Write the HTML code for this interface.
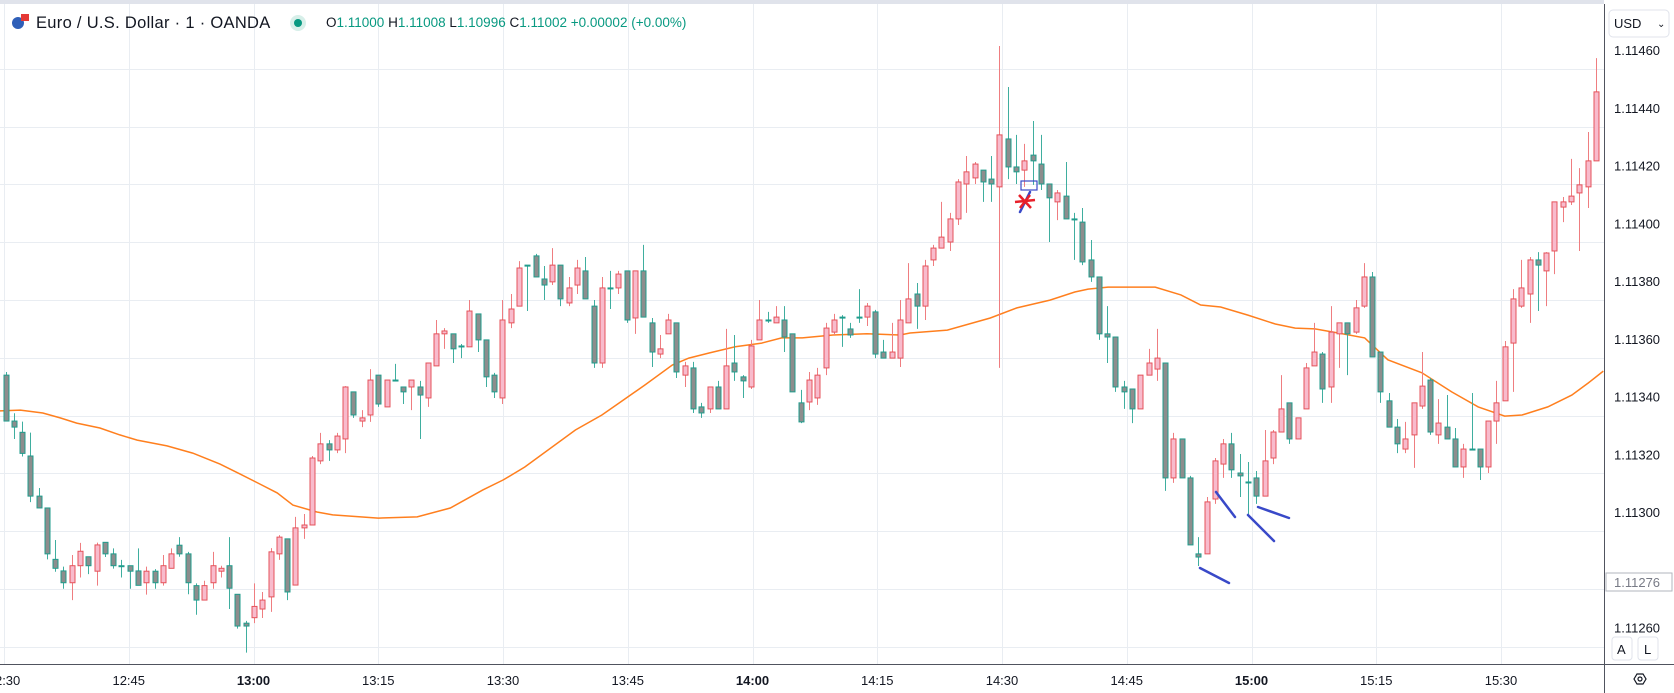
<!DOCTYPE html>
<html><head><meta charset="utf-8"><style>
body{margin:0;background:#fff;width:1674px;height:693px;overflow:hidden;font-family:"Liberation Sans",sans-serif}
svg{display:block}
text{font-family:"Liberation Sans",sans-serif}
</style></head><body>
<svg id="c" width="1674" height="693">
  <rect x="0" y="0" width="1674" height="693" fill="#fff"/>
  <rect x="0" y="0" width="1674" height="4" fill="#e0e3eb"/>
  <g id="grid"></g>
  <g id="ema"></g>
  <g id="candles"></g>
  <g stroke="#3949c8" stroke-width="2.5" stroke-linecap="round">
    <rect x="1021" y="181" width="16" height="9" fill="none" stroke="#3949c8" stroke-width="1.2"/>
    <line x1="1020" y1="212" x2="1030" y2="192"/>
    <line x1="1200" y1="568" x2="1229" y2="583"/>
    <line x1="1216" y1="492" x2="1235" y2="517"/>
    <line x1="1248" y1="515" x2="1274" y2="541"/>
    <line x1="1258" y1="507" x2="1289" y2="518"/>
  </g>
  <g stroke="#e8202a" stroke-width="2.5">
    <line x1="1015" y1="202" x2="1035" y2="200"/>
    <line x1="1019" y1="195" x2="1031" y2="208"/>
    <line x1="1020" y1="208" x2="1030" y2="195"/>
  </g>
  <rect x="1604" y="0" width="70" height="693" fill="#fff"/>
  <rect x="0" y="664" width="1674" height="29" fill="#fff"/>
  <line x1="1604.5" y1="4" x2="1604.5" y2="693" stroke="#50535e" stroke-width="1"/>
  <line x1="0" y1="664.5" x2="1674" y2="664.5" stroke="#50535e" stroke-width="1"/>
  <g id="yaxis"></g>
  <g id="xaxis"></g>
  <g>
    <rect x="1609" y="10" width="60" height="27" rx="4" fill="#fff" stroke="#e0e3eb"/>
    <text x="1614" y="28" font-size="13" fill="#131722">USD</text>
    <text x="1657" y="27" font-size="10" fill="#131722">⌄</text>
  </g>
  <g>
    <rect x="1606" y="573" width="66" height="18" fill="#fff" stroke="#b2b5be"/>
    <text x="1614" y="587" font-size="13" fill="#787b86">1.11276</text>
  </g>
  <g>
    <rect x="1612" y="637" width="20" height="23" rx="3" fill="#fff" stroke="#e0e3eb"/>
    <text x="1617" y="654" font-size="13" fill="#131722">A</text>
  </g>
  <g>
    <rect x="1638" y="637" width="20" height="23" rx="3" fill="#fff" stroke="#e0e3eb"/>
    <text x="1644" y="654" font-size="13" fill="#131722">L</text>
  </g>
  <g fill="none" stroke="#131722" stroke-width="1.2">
    <polygon points="1634,679 1637,674 1643,674 1646,679 1643,684 1637,684"/>
    <circle cx="1640" cy="679" r="2"/>
  </g>
  <g>
    <circle cx="18" cy="23" r="6" fill="#2f5fb8"/>
    <rect x="21" y="14" width="8" height="7" fill="#e53935"/>
    <text x="36" y="28" font-size="16.5" letter-spacing="0.3" fill="#131722">Euro / U.S. Dollar · 1 · OANDA</text>
    <circle cx="298" cy="23" r="8" fill="#d7efe9"/>
    <circle cx="298" cy="23" r="4" fill="#089981"/>
    <text x="326" y="27" font-size="13.5"><tspan fill="#131722">O</tspan><tspan fill="#089981">1.11000 </tspan><tspan fill="#131722">H</tspan><tspan fill="#089981">1.11008 </tspan><tspan fill="#131722">L</tspan><tspan fill="#089981">1.10996 </tspan><tspan fill="#131722">C</tspan><tspan fill="#089981">1.11002 +0.00002 (+0.00%)</tspan></text>
  </g>
</svg>
<script>
const opens=[1.113474,1.113315,1.113276,1.113194,1.113055,1.113014,1.112836,1.112796,1.112755,1.112814,1.112845,1.112795,1.112895,1.112855,1.112814,1.112814,1.112796,1.112755,1.112795,1.112755,1.112805,1.112885,1.112855,1.112745,1.112695,1.112755,1.112795,1.112814,1.112715,1.112615,1.112634,1.112664,1.112706,1.112855,1.112907,1.112747,1.112945,1.112955,1.113177,1.113236,1.113215,1.113253,1.113416,1.113315,1.113336,1.113474,1.113364,1.113457,1.113433,1.113433,1.113433,1.113395,1.113506,1.113617,1.113617,1.113575,1.113572,1.113686,1.113596,1.113474,1.113395,1.113655,1.113713,1.113855,1.113887,1.113807,1.113797,1.113855,1.113724,1.113786,1.113835,1.113713,1.113516,1.113776,1.113776,1.113835,1.113672,1.113835,1.113655,1.113547,1.113617,1.113655,1.113474,1.113499,1.113364,1.113357,1.113433,1.113357,1.113516,1.113468,1.113433,1.113596,1.113665,1.113655,1.113665,1.113617,1.113378,1.113381,1.113395,1.113499,1.113623,1.113675,1.113634,1.113675,1.113675,1.113693,1.113554,1.113533,1.113533,1.113655,1.113755,1.113713,1.113873,1.113914,1.113935,1.114015,1.114136,1.114157,1.114184,1.114153,1.114126,1.114292,1.114195,1.114184,1.114236,1.114205,1.114136,1.114074,1.114094,1.114015,1.114004,1.113873,1.113814,1.113617,1.113606,1.113433,1.113426,1.113357,1.113474,1.113495,1.113516,1.113118,1.113253,1.113118,1.112855,1.112855,1.113045,1.113166,1.113236,1.113135,1.113104,1.113118,1.113055,1.113187,1.113277,1.113378,1.113253,1.113357,1.113506,1.113547,1.113433,1.113617,1.113655,1.113623,1.113713,1.113814,1.113554,1.113385,1.113294,1.113218,1.113267,1.113367,1.113457,1.113267,1.113294,1.113253,1.113156,1.113218,1.113218,1.113156,1.113315,1.113385,1.113585,1.113713,1.113755,1.113873,1.113835,1.113904,1.114056,1.114074,1.114105,1.114126,1.114216];
const highs=[1.113485,1.113342,1.113313,1.113275,1.113083,1.113014,1.112903,1.112811,1.112851,1.112893,1.112845,1.112894,1.112895,1.112874,1.112834,1.112814,1.112874,1.112811,1.112802,1.112851,1.112874,1.112913,1.112862,1.112753,1.112762,1.112862,1.112814,1.112913,1.112715,1.112623,1.112753,1.112723,1.112875,1.112920,1.112907,1.112983,1.112993,1.113194,1.113274,1.113249,1.113274,1.113436,1.113416,1.113353,1.113495,1.113474,1.113457,1.113513,1.113433,1.113457,1.113454,1.113516,1.113665,1.113637,1.113617,1.113582,1.113734,1.113686,1.113596,1.113482,1.113734,1.113755,1.113869,1.113855,1.113894,1.113852,1.113914,1.113855,1.113814,1.113873,1.113883,1.113734,1.113814,1.113835,1.113835,1.113835,1.113835,1.113925,1.113672,1.113613,1.113686,1.113655,1.113520,1.113520,1.113378,1.113433,1.113454,1.113634,1.113613,1.113474,1.113596,1.113734,1.113693,1.113713,1.113713,1.113617,1.113423,1.113485,1.113499,1.113655,1.113686,1.113682,1.113655,1.113772,1.113724,1.113700,1.113596,1.113655,1.113734,1.113862,1.113793,1.113873,1.113925,1.114074,1.114036,1.114153,1.114233,1.114212,1.114184,1.114233,1.114614,1.114472,1.114306,1.114275,1.114354,1.114306,1.114136,1.114115,1.114212,1.114036,1.114053,1.113942,1.113814,1.113713,1.113606,1.113454,1.113426,1.113474,1.113565,1.113634,1.113516,1.113274,1.113253,1.113125,1.112913,1.113052,1.113187,1.113253,1.113274,1.113201,1.113173,1.113142,1.113284,1.113284,1.113474,1.113378,1.113326,1.113516,1.113655,1.113554,1.113713,1.113655,1.113655,1.113734,1.113862,1.113831,1.113554,1.113412,1.113322,1.113312,1.113378,1.113554,1.113464,1.113391,1.113405,1.113291,1.113236,1.113412,1.113218,1.113315,1.113454,1.113592,1.113772,1.113873,1.113883,1.113900,1.113900,1.114074,1.114091,1.114223,1.114191,1.114316,1.114572];
const lows=[1.113315,1.113253,1.113192,1.113034,1.113014,1.112836,1.112793,1.112734,1.112695,1.112773,1.112785,1.112745,1.112844,1.112804,1.112773,1.112734,1.112746,1.112714,1.112734,1.112745,1.112805,1.112845,1.112715,1.112644,1.112695,1.112734,1.112773,1.112664,1.112596,1.112513,1.112615,1.112633,1.112654,1.112834,1.112695,1.112747,1.112907,1.112955,1.113166,1.113177,1.113204,1.113204,1.113326,1.113294,1.113312,1.113364,1.113364,1.113456,1.113374,1.113353,1.113253,1.113364,1.113506,1.113565,1.113516,1.113533,1.113572,1.113554,1.113433,1.113395,1.113374,1.113637,1.113713,1.113696,1.113814,1.113734,1.113786,1.113713,1.113713,1.113755,1.113738,1.113499,1.113499,1.113703,1.113755,1.113655,1.113617,1.113675,1.113502,1.113533,1.113617,1.113464,1.113433,1.113343,1.113326,1.113343,1.113357,1.113357,1.113454,1.113395,1.113426,1.113596,1.113655,1.113655,1.113554,1.113416,1.113308,1.113353,1.113371,1.113474,1.113613,1.113572,1.113603,1.113655,1.113644,1.113533,1.113533,1.113533,1.113502,1.113655,1.113634,1.113665,1.113852,1.113914,1.113904,1.113994,1.114036,1.114136,1.114074,1.114074,1.113499,1.114153,1.114136,1.114126,1.114133,1.114115,1.113935,1.114011,1.114015,1.113873,1.113855,1.113797,1.113596,1.113516,1.113416,1.113357,1.113308,1.113357,1.113474,1.113454,1.113073,1.113101,1.113118,1.112886,1.112813,1.112855,1.113028,1.113118,1.113118,1.113052,1.112993,1.113028,1.113055,1.113166,1.113277,1.113236,1.113253,1.113357,1.113506,1.113378,1.113378,1.113499,1.113474,1.113617,1.113707,1.113537,1.113378,1.113294,1.113204,1.113204,1.113153,1.113357,1.113267,1.113236,1.113253,1.113156,1.113118,1.113217,1.113111,1.113135,1.113236,1.113385,1.113416,1.113707,1.113655,1.113696,1.113713,1.113824,1.114004,1.114063,1.113904,1.114053,1.114216];
const closes=[1.113315,1.113294,1.113203,1.113055,1.113014,1.112855,1.112805,1.112755,1.112814,1.112864,1.112814,1.112886,1.112855,1.112814,1.112813,1.112795,1.112746,1.112795,1.112755,1.112814,1.112855,1.112855,1.112755,1.112695,1.112745,1.112814,1.112805,1.112736,1.112605,1.112605,1.112673,1.112695,1.112862,1.112913,1.112723,1.112945,1.112955,1.113187,1.113236,1.113215,1.113263,1.113433,1.113336,1.113326,1.113457,1.113374,1.113457,1.113456,1.113416,1.113457,1.113405,1.113516,1.113617,1.113627,1.113565,1.113573,1.113696,1.113596,1.113468,1.113416,1.113665,1.113703,1.113845,1.113853,1.113814,1.113786,1.113855,1.113738,1.113776,1.113845,1.113738,1.113516,1.113776,1.113774,1.113824,1.113665,1.113835,1.113675,1.113554,1.113565,1.113665,1.113485,1.113506,1.113357,1.113343,1.113433,1.113357,1.113506,1.113485,1.113454,1.113575,1.113665,1.113663,1.113675,1.113606,1.113416,1.113312,1.113457,1.113474,1.113637,1.113665,1.113674,1.113613,1.113674,1.113713,1.113547,1.113533,1.113554,1.113665,1.113738,1.113713,1.113852,1.113914,1.113952,1.114015,1.114143,1.114178,1.114205,1.114143,1.114136,1.114306,1.114195,1.114178,1.114216,1.114216,1.114136,1.114088,1.114105,1.114015,1.114013,1.113866,1.113814,1.113617,1.113606,1.113433,1.113416,1.113357,1.113474,1.113516,1.113533,1.113118,1.113253,1.113118,1.112886,1.112844,1.113035,1.113177,1.113236,1.113146,1.113125,1.113102,1.113055,1.113177,1.113277,1.113357,1.113253,1.113326,1.113499,1.113554,1.113426,1.113623,1.113655,1.113617,1.113707,1.113814,1.113537,1.113416,1.113294,1.113236,1.113253,1.113378,1.113436,1.113277,1.113308,1.113253,1.113156,1.113218,1.113217,1.113156,1.113315,1.113378,1.113572,1.113738,1.113776,1.113873,1.113855,1.113897,1.114074,1.114074,1.114094,1.114133,1.114216,1.114455];
const emaIdx=[-0.7,1.8,4.5,6.6,8.6,11.4,13.8,15.9,19.5,22.6,25.9,28.3,30.7,32.8,34.7,37.6,39.5,45.0,49.7,53.7,57.6,60.1,62.7,68.8,72.0,74.1,77.2,80.5,82.5,85.0,88.1,91.3,93.7,96.2,99.9,104.0,108.0,109.2,113.7,118.9,122.1,126.1,129.1,130.7,133.1,138.8,141.9,144.3,146.7,150.0,153.3,155.7,158.1,160.9,164.1,166.9,171.0,174.6,177.8,181.0,183.1,186.2,189.1,191.1,192.9];
const emaVals=[1.113350,1.113353,1.113343,1.113326,1.113308,1.113291,1.113267,1.113249,1.113229,1.113204,1.113166,1.113132,1.113097,1.113066,1.113024,1.113000,1.112990,1.112979,1.112983,1.113014,1.113076,1.113111,1.113156,1.113284,1.113336,1.113378,1.113440,1.113509,1.113533,1.113551,1.113572,1.113585,1.113603,1.113603,1.113613,1.113617,1.113613,1.113620,1.113630,1.113672,1.113707,1.113734,1.113762,1.113772,1.113779,1.113779,1.113752,1.113717,1.113710,1.113682,1.113651,1.113637,1.113634,1.113620,1.113603,1.113527,1.113482,1.113416,1.113364,1.113332,1.113336,1.113364,1.113405,1.113447,1.113488];
const priceTicks=[1.1146,1.1144,1.1142,1.114,1.1138,1.1136,1.1134,1.1132,1.113,1.1128,1.1126];
const timeTicks=["12:30","12:45","13:00","13:15","13:30","13:45","14:00","14:15","14:30","14:45","15:00","15:15","15:30"];
const boldTicks=["13:00","14:00","15:00"];

const NS="http://www.w3.org/2000/svg";
function y(p){return 50+(1.1146-p)/0.0002*57.75;}
function xi(i){return 5.5+i*8.283;}
function xt(k){return 4+k*124.75;}
function mk(tag,attrs,parent){const e=document.createElementNS(NS,tag);for(const k in attrs)e.setAttribute(k,attrs[k]);parent.appendChild(e);return e;}

const grid=document.getElementById('grid'),yax=document.getElementById('yaxis'),xax=document.getElementById('xaxis');
priceTicks.forEach((p,k)=>{
  const gy=Math.round(y(p)+19)+0.5;
  const l=mk('line',{x1:0,x2:1604,y1:gy,y2:gy,stroke:'#e9edf2','stroke-width':1},grid);
  
  
  if(Math.abs(p-1.1128)<1e-9)return;
  const t=mk('text',{x:1614,y:y(p)+5,'font-size':13,fill:'#131722'},yax);
  t.textContent=p.toFixed(5);
  
  
});
timeTicks.forEach((s,k)=>{
  const gx=Math.round(xt(k))+0.5;
  const l=mk('line',{x1:gx,x2:gx,y1:4,y2:664,stroke:'#e9edf2','stroke-width':1},grid);
  
  
  const b=boldTicks.includes(s);
  const t=mk('text',{x:xt(k),y:685,'font-size':13,fill:'#131722','text-anchor':'middle','font-weight':b?'bold':'normal'},xax);
  t.textContent=s;
  
  
});
let d='';
emaIdx.forEach((i,k)=>{d+=(k?'L':'M')+xi(i).toFixed(1)+','+y(emaVals[k]).toFixed(1);});
const pe=mk('path',{d:d,fill:'none',stroke:'#ff7f1e','stroke-width':1.5},document.getElementById('ema'));


const cg=document.getElementById('candles');
opens.forEach((o,i)=>{
  const c=closes[i],h=highs[i],l=lows[i];
  const up=c>o;
  const g=mk('g',{},cg);
  
  
  const cx=Math.round(xi(i))+0.5;
  mk('line',{x1:cx,x2:cx,y1:y(h),y2:y(l),stroke:up?'#ef7d80':'#3fae9f','stroke-width':1},g);
  const top=y(Math.max(o,c)),bot=y(Math.min(o,c));
  mk('rect',{x:cx-2.5,y:top,width:5,height:Math.max(1,bot-top),fill:up?'#f8bbcc':'#8d8d8d',stroke:up?'#e5535b':'#1f9c8c','stroke-width':1},g);
});
</script>
</body></html>
